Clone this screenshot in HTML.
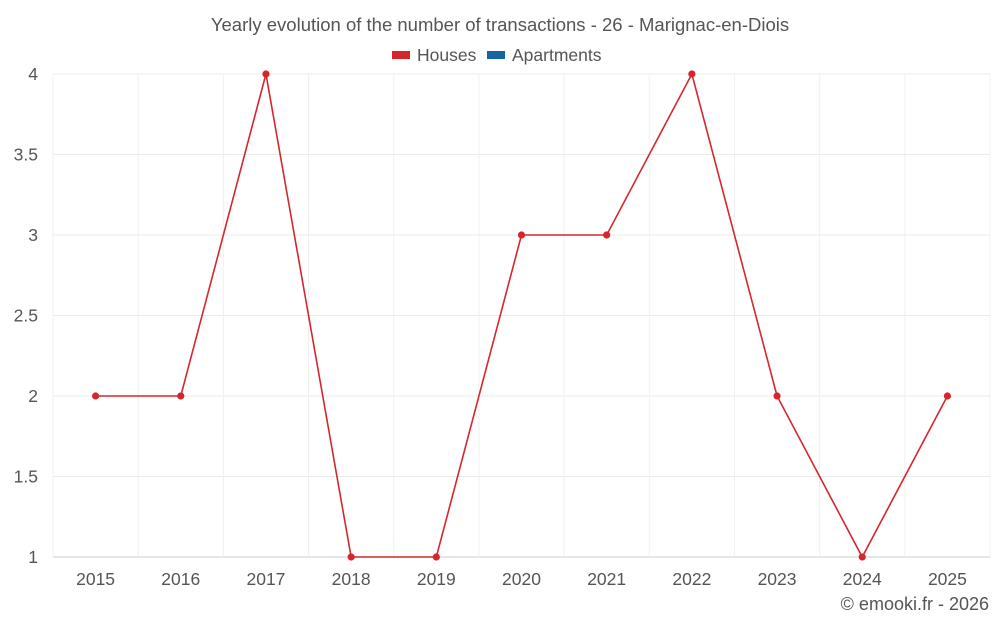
<!DOCTYPE html>
<html><head><meta charset="utf-8">
<style>
body{margin:0;background:#fff;font-family:"Liberation Sans",sans-serif;}
svg text{font-family:"Liberation Sans",sans-serif;fill:#555;}
</style></head>
<body>
<svg id="chart" width="1000" height="625" viewBox="0 0 1000 625">
<text x="500" y="31" text-anchor="middle" font-size="18.5">Yearly evolution of the number of transactions - 26 - Marignac-en-Diois</text>
<g>
<g><rect x="392" y="51" width="18" height="8" fill="#d7262b"/><text x="417" y="61" font-size="17.5">Houses</text></g>
<g><rect x="487" y="51" width="18" height="8" fill="#1565a0"/><text x="512" y="61" font-size="17.5">Apartments</text></g>
</g>
<g id="grid"></g>
<g id="axes"></g>
<g id="series"></g>
<text x="989" y="610" text-anchor="end" font-size="18">© emooki.fr - 2026</text>
</svg>
<script>
const categories=["2015","2016","2017","2018","2019","2020","2021","2022","2023","2024","2025"];
const houses=[2,2,4,1,1,3,3,4,2,1,2];
const yTicks=[1,1.5,2,2.5,3,3.5,4];
const yTickLabels=["1","1.5","2","2.5","3","3.5","4"];
const NS="http://www.w3.org/2000/svg";
const L=53,R=990,T=74,B=557,yMin=1,yMax=4;
const bw=(R-L)/categories.length;
const xs=i=>L+bw*(i+0.5);
const ys=v=>B-(v-yMin)/(yMax-yMin)*(B-T);
function mk(tag,attrs,parent){const e=document.createElementNS(NS,tag);for(const k in attrs)e.setAttribute(k,attrs[k]);parent.appendChild(e);return e;}
const grid=document.getElementById('grid'),axes=document.getElementById('axes'),series=document.getElementById('series');
yTicks.forEach((t,i)=>{
 const l=mk('line',{x1:L,x2:R,y1:ys(t),y2:ys(t),stroke:i==0?'#ccc':'#ebebeb','stroke-width':1},grid);
 
 
 const tx=mk('text',{x:L-15,y:ys(t)+6,'text-anchor':'end','font-size':17.5},axes);
 tx.textContent=yTickLabels[i];
 
 
});
for(let i=0;i<=categories.length;i++){
 const l=mk('line',{x1:L+bw*i,x2:L+bw*i,y1:T,y2:B,stroke:'#f0f0f0','stroke-width':1},grid);
 
 
}
categories.forEach((c,i)=>{
 const tx=mk('text',{x:xs(i),y:585,'text-anchor':'middle','font-size':17.5},axes);
 tx.textContent=c;
 
 
});
const pts=houses.map((v,i)=>xs(i)+','+ys(v)).join(' ');
const pl=mk('polyline',{points:pts,fill:'none',stroke:'#d7262b','stroke-width':1.6},series);


houses.forEach((v,i)=>{
 const c=mk('circle',{cx:xs(i),cy:ys(v),r:3.6,fill:'#d7262b'},series);
 
 
});
</script>
</body></html>
